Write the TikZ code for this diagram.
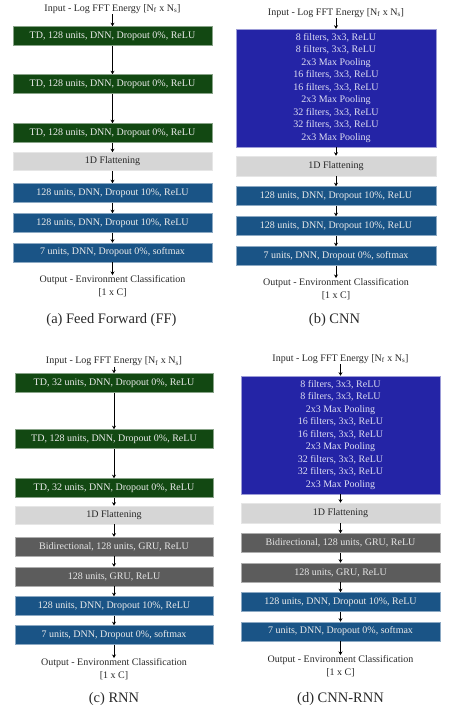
\documentclass[tikz,border=0pt]{standalone}
\usepackage{fontspec}
\setmainfont{Liberation Serif}
\usetikzlibrary{arrows.meta}
\definecolor{tdgreen}{RGB}{18,72,18}
\definecolor{dnnblue}{RGB}{26,84,134}
\definecolor{cnnblue}{RGB}{36,36,166}
\definecolor{grugray}{RGB}{92,92,92}
\definecolor{flatgray}{RGB}{214,214,214}
\definecolor{txtgray}{RGB}{40,40,40}
\begin{document}
\begin{tikzpicture}[x=1pt,y=-1pt,
  box/.style={rectangle, minimum height=19pt, minimum width=199pt, inner sep=0pt, font=\fontsize{10}{12}\selectfont, line width=0.6pt},
  tdbox/.style={box, fill=tdgreen, draw=tdgreen!50!white, text=white!92!black},
  dnnbox/.style={box, fill=dnnblue, draw=dnnblue!50!white, text=white!92!black},
  grubox/.style={box, fill=grugray, draw=grugray!50!white, text=white!90!black},
  flatbox/.style={box, fill=flatgray, draw=flatgray!60!white, text=txtgray, minimum height=18pt},
  cnnbox/.style={box, fill=cnnblue, draw=cnnblue!45!white, text=white!85!cnnblue, minimum height=118pt, align=center, font=\fontsize{10}{12.5}\selectfont},
  lbl/.style={inner sep=0.5pt, text=txtgray, font=\fontsize{10}{12.5}\selectfont, align=center},
  captxt/.style={inner sep=0pt, text=txtgray, font=\fontsize{14.5}{16}\selectfont},
  arr/.style={-{Stealth[length=3.5pt,width=4pt]}, line width=0.8pt, black}
]
\path[use as bounding box] (0,0) rectangle (454,716);

% ---------- (a) Feed Forward ----------
\node[lbl] (ain) at (112.5,9) {Input - Log FFT Energy [N\textsubscript{f} x N\textsubscript{s}]};
\node[tdbox] (a1) at (112.5,36) {TD, 128 units, DNN, Dropout 0\%, ReLU};
\node[tdbox] (a2) at (112.5,84) {TD, 128 units, DNN, Dropout 0\%, ReLU};
\node[tdbox] (a3) at (112.5,133) {TD, 128 units, DNN, Dropout 0\%, ReLU};
\node[flatbox] (af) at (112.5,161.5) {1D Flattening};
\node[dnnbox] (a4) at (112.5,193) {128 units, DNN, Dropout 10\%, ReLU};
\node[dnnbox] (a5) at (112.5,223) {128 units, DNN, Dropout 10\%, ReLU};
\node[dnnbox] (a6) at (112.5,252.5) {7 units, DNN, Dropout 0\%, softmax};
\node[lbl, anchor=north] (aout) at (112.5,275) {Output - Environment Classification\\{}[1 x C]};
\node[captxt] (acap) at (111.5,320) {(a) Feed Forward (FF)};
\draw[arr] (ain) -- (a1);
\draw[arr] (a1) -- (a2);
\draw[arr] (a2) -- (a3);
\draw[arr] (a3) -- (af);
\draw[arr] (af) -- (a4);
\draw[arr] (a4) -- (a5);
\draw[arr] (a5) -- (a6);
\draw[arr] (a6) -- (aout);

% ---------- (b) CNN ----------
\node[lbl] (bin) at (336,13) {Input - Log FFT Energy [N\textsubscript{f} x N\textsubscript{s}]};
\node[cnnbox, minimum width=200pt] (b1) at (336,88) {8 filters, 3x3, ReLU\\8 filters, 3x3, ReLU\\2x3 Max Pooling\\16 filters, 3x3, ReLU\\16 filters, 3x3, ReLU\\2x3 Max Pooling\\32 filters, 3x3, ReLU\\32 filters, 3x3, ReLU\\2x3 Max Pooling};
\node[flatbox, minimum width=200pt, minimum height=20pt] (bf) at (336,166) {1D Flattening};
\node[dnnbox, minimum width=200pt] (b2) at (336,196) {128 units, DNN, Dropout 10\%, ReLU};
\node[dnnbox, minimum width=200pt] (b3) at (336,226) {128 units, DNN, Dropout 10\%, ReLU};
\node[dnnbox, minimum width=200pt] (b4) at (336,256) {7 units, DNN, Dropout 0\%, softmax};
\node[lbl, anchor=north] (bout) at (336,278) {Output - Environment Classification\\{}[1 x C]};
\node[captxt] (bcap) at (334.5,320) {(b) CNN};
\draw[arr] (bin) -- (b1);
\draw[arr] (b1) -- (bf);
\draw[arr] (bf) -- (b2);
\draw[arr] (b2) -- (b3);
\draw[arr] (b3) -- (b4);
\draw[arr] (b4) -- (bout);

% ---------- (c) RNN ----------
\node[lbl] (cin) at (114,361.5) {Input - Log FFT Energy [N\textsubscript{f} x N\textsubscript{s}]};
\node[tdbox, minimum width=198pt] (c1) at (114,383) {TD, 32 units, DNN, Dropout 0\%, ReLU};
\node[tdbox, minimum width=198pt] (c2) at (114,439) {TD, 128 units, DNN, Dropout 0\%, ReLU};
\node[tdbox, minimum width=198pt] (c3) at (114,488) {TD, 32 units, DNN, Dropout 0\%, ReLU};
\node[flatbox, minimum width=198pt] (cf) at (114,515) {1D Flattening};
\node[grubox, minimum width=198pt] (c4) at (114,546.5) {Bidirectional, 128 units, GRU, ReLU};
\node[grubox, minimum width=198pt] (c5) at (114,576.5) {128 units, GRU, ReLU};
\node[dnnbox, minimum width=198pt] (c6) at (114,606) {128 units, DNN, Dropout 10\%, ReLU};
\node[dnnbox, minimum width=198pt] (c7) at (114,635) {7 units, DNN, Dropout 0\%, softmax};
\node[lbl, anchor=north] (cout) at (114,658) {Output - Environment Classification\\{}[1 x C]};
\node[captxt] (ccap) at (114,699) {(c) RNN};
\draw[arr] (cin) -- (c1);
\draw[arr] (c1) -- (c2);
\draw[arr] (c2) -- (c3);
\draw[arr] (c3) -- (cf);
\draw[arr] (cf) -- (c4);
\draw[arr] (c4) -- (c5);
\draw[arr] (c5) -- (c6);
\draw[arr] (c6) -- (c7);
\draw[arr] (c7) -- (cout);

% ---------- (d) CNN-RNN ----------
\node[lbl] (din) at (340.5,359) {Input - Log FFT Energy [N\textsubscript{f} x N\textsubscript{s}]};
\node[cnnbox] (d1) at (340.5,435) {8 filters, 3x3, ReLU\\8 filters, 3x3, ReLU\\2x3 Max Pooling\\16 filters, 3x3, ReLU\\16 filters, 3x3, ReLU\\2x3 Max Pooling\\32 filters, 3x3, ReLU\\32 filters, 3x3, ReLU\\2x3 Max Pooling};
\node[flatbox, minimum height=20pt] (df) at (340.5,513) {1D Flattening};
\node[grubox] (d2) at (340.5,543) {Bidirectional, 128 units, GRU, ReLU};
\node[grubox] (d3) at (340.5,572.5) {128 units, GRU, ReLU};
\node[dnnbox] (d4) at (340.5,602) {128 units, DNN, Dropout 10\%, ReLU};
\node[dnnbox] (d5) at (340.5,631.5) {7 units, DNN, Dropout 0\%, softmax};
\node[lbl, anchor=north] (dout) at (340.5,655) {Output - Environment Classification\\{}[1 x C]};
\node[captxt] (dcap) at (340.5,699) {(d) CNN-RNN};
\draw[arr] (din) -- (d1);
\draw[arr] (d1) -- (df);
\draw[arr] (df) -- (d2);
\draw[arr] (d2) -- (d3);
\draw[arr] (d3) -- (d4);
\draw[arr] (d4) -- (d5);
\draw[arr] (d5) -- (dout);
\end{tikzpicture}
\end{document}
